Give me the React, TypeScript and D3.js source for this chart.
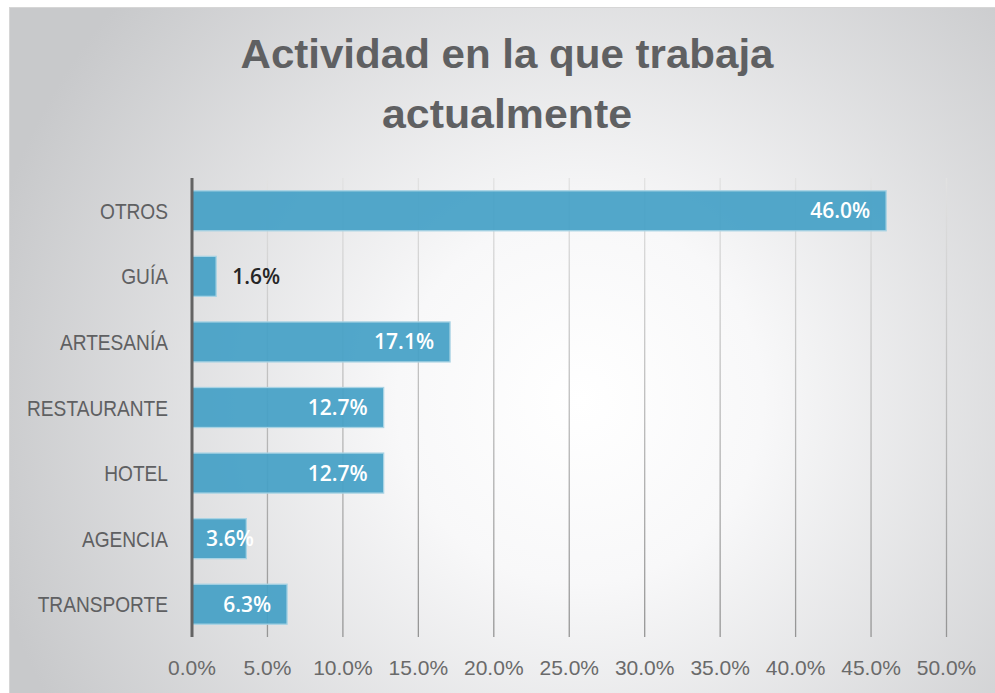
import React from "react";
import * as d3 from "d3";

const categories = ["OTROS", "GUÍA", "ARTESANÍA", "RESTAURANTE", "HOTEL", "AGENCIA", "TRANSPORTE"];
const values = [46.0, 1.6, 17.1, 12.7, 12.7, 3.6, 6.3];
const ticks = [0, 5, 10, 15, 20, 25, 30, 35, 40, 45, 50];
const titleLines = ["Actividad en la que trabaja", "actualmente"];

const W = 995;
const H = 693;

export default function App() {
  const x = d3.scaleLinear().domain([0, 50]).range([192, 946.5]);
  const y = d3.scaleBand<string>().domain(categories).range([178, 637]).paddingInner(0.39).paddingOuter(0.195);
  const fmt = (v: number) => v.toFixed(1) + "%";

  return (
    <svg width={W} height={H} style={{ position: "absolute", left: 0, top: 0 }}>
      <defs>
        <radialGradient id="bg" cx={580} cy={400} r={610} gradientUnits="userSpaceOnUse">
          <stop offset="0" stopColor="#ffffff" />
          <stop offset="0.3" stopColor="#f8f8f9" />
          <stop offset="1" stopColor="#c8c9cb" />
        </radialGradient>
        <linearGradient id="grid" x1={0} y1={178} x2={0} y2={637} gradientUnits="userSpaceOnUse">
          <stop offset="0" stopColor="#e2e2e2" />
          <stop offset="1" stopColor="#959595" />
        </linearGradient>
      </defs>
      <rect x={0} y={0} width={W} height={H} fill="#ffffff" />
      <rect x={9.5} y={7.5} width={W} height={H} fill="url(#bg)" stroke="#d6d6d6" strokeWidth={1} />

      {titleLines.map((t, i) => (
        <text
          key={t}
          x={507}
          y={68 + i * 60}
          textAnchor="middle"
          fontFamily="'Liberation Sans', Arial, sans-serif"
          fontWeight="bold"
          fontSize={41}
          fill="#5f6062"
          textLength={i === 0 ? 533 : 250}
          lengthAdjust="spacingAndGlyphs"
        >
          {t}
        </text>
      ))}

      {ticks.slice(1).map((t) => (
        <line key={t} x1={x(t)} x2={x(t)} y1={178} y2={637} stroke="url(#grid)" strokeWidth={1.3} />
      ))}

      {categories.map((c, i) => {
        const v = values[i];
        const y0 = y(c)!;
        const bw = y.bandwidth();
        const cy = y0 + bw / 2;
        const end = x(v);
        const inside = v > 2;
        const labelX = inside ? Math.max(end - 16, x(0) + 62) : end + 16;
        return (
          <g key={c}>
            <rect
              x={x(0)}
              y={y0}
              width={end - x(0)}
              height={bw}
              fill="#45a0c6"
              fillOpacity={0.93}
              stroke="#a8d3e4"
              strokeWidth={1.3}
            />
            <text
              x={labelX}
              y={cy}
              dy="0.36em"
              textAnchor={inside ? "end" : "start"}
              fontFamily="'Open Sans', sans-serif"
              fontWeight={600}
              fontSize={21}
              fill={inside ? "#ffffff" : "#262626"}
            >
              {fmt(v)}
            </text>
            <text
              transform={`translate(168,${cy}) scale(0.85,1)`}
              dy="0.36em"
              textAnchor="end"
              fontFamily="'Liberation Sans', Arial, sans-serif"
              fontSize={22.5}
              fill="#5f6062"
            >
              {c}
            </text>
          </g>
        );
      })}

      <line x1={x(0)} x2={x(0)} y1={178} y2={637} stroke="#636363" strokeWidth={3} />

      {ticks.map((t) => (
        <text
          key={t}
          x={x(t)}
          y={675}
          textAnchor="middle"
          fontFamily="'Liberation Sans', Arial, sans-serif"
          fontSize={21}
          fill="#6a6a6a"
        >
          {fmt(t)}
        </text>
      ))}
    </svg>
  );
}
